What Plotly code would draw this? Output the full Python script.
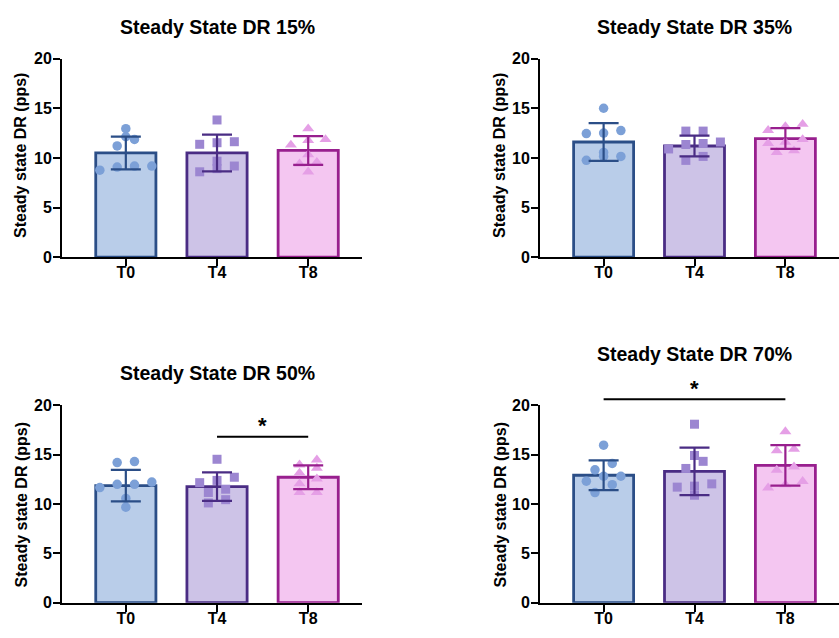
import numpy as np
import plotly.graph_objects as go

# ---------------- data ----------------
categories = ["T0", "T4", "T8"]
panel_titles = ["Steady State DR 15%", "Steady State DR 35%",
                "Steady State DR 50%", "Steady State DR 70%"]
y_title = "Steady state DR (pps)"
y_ticks = [0, 5, 10, 15, 20]

# bar means and SD (T0, T4, T8)
mean_15 = [10.5, 10.5, 10.75]
sd_15 = [1.65, 1.85, 1.45]
mean_35 = [11.6, 11.2, 11.95]
sd_35 = [1.9, 1.05, 1.05]
mean_50 = [11.85, 11.75, 12.7]
sd_50 = [1.6, 1.45, 1.2]
mean_70 = [12.9, 13.3, 13.9]
sd_70 = [1.5, 2.4, 2.05]

# individual participants
pts_15_T0 = [12.94, 12.13, 11.86, 11.21, 9.18, 9.08, 8.76, 9.18]
pts_15_T4 = [13.82, 11.53, 11.63, 11.37, 9.67, 9.18, 8.60, 8.92]
pts_15_T8 = [12.94, 11.86, 11.76, 11.30, 10.33, 9.57, 8.60, 9.41]

pts_35_T0 = [15.00, 12.50, 12.75, 12.45, 10.55, 9.75, 10.15, 10.15]
pts_35_T4 = [12.70, 12.70, 11.45, 10.90, 11.35, 11.60, 9.75, 10.15]
pts_35_T8 = [13.17, 13.40, 12.78, 11.86, 11.47, 11.60, 10.56, 10.72]

pts_50_T0 = [14.29, 14.19, 11.98, 12.21, 11.65, 11.98, 10.56, 9.67]
pts_50_T4 = [14.52, 12.70, 12.15, 12.38, 11.49, 11.16, 10.43, 10.10]
pts_50_T8 = [14.46, 13.96, 13.63, 13.14, 12.54, 12.05, 11.16, 11.16]

pts_70_T0 = [15.95, 14.10, 13.45, 12.80, 12.80, 12.30, 11.95, 11.15]
pts_70_T4 = [18.07, 14.90, 14.31, 13.59, 12.03, 11.80, 11.70, 10.88]
pts_70_T8 = [17.32, 15.56, 15.39, 13.76, 13.43, 12.29, 11.63, 11.96]

# significance brackets: (from, to, label, bracket height)
sig_50 = ("T4", "T8", "*", 16.8)
sig_70 = ("T0", "T8", "*", 20.6)

# ---------------- styling ----------------
FONT = "Arial, Liberation Sans, sans-serif"
fill_cols = ["#b9cde9", "#cdc3e7", "#f4c6f1"]
edge_cols = ["#2b4e87", "#4a2c84", "#981f8e"]
pt_cols = ["#7ca0d7", "#9c86d1", "#e59fe6"]
symbols = ["circle", "square", "triangle-up"]
sizes = [9.5, 9, 10.5]

W, H = 839, 638
XR = [-0.70, 2.59]
# pixel boxes: (left, right, top(y=20), bottom(y=0))
boxes = [(62, 362, 52, 256), (540, 839, 52, 256),
         (62, 362, 408, 611), (540, 839, 408, 611)]
title_pos = [(217, 20), (694, 20), (217, 375), (694, 355)]
ytitle_pos = [(21, 152), (500, 152), (21, 511), (500, 511)]

means = [mean_15, mean_35, mean_50, mean_70]
sds = [sd_15, sd_35, sd_50, sd_70]
points = [[pts_15_T0, pts_15_T4, pts_15_T8],
          [pts_35_T0, pts_35_T4, pts_35_T8],
          [pts_50_T0, pts_50_T4, pts_50_T8],
          [pts_70_T0, pts_70_T4, pts_70_T8]]
sigs = {2: sig_50, 3: sig_70}


def swarm_offsets(vals, row_tol=0.8, step=0.19):
    vals = np.asarray(vals, float)
    order = np.argsort(vals, kind="stable")
    rows, cur = [], [order[0]]
    for idx in order[1:]:
        if vals[idx] - vals[cur[0]] < row_tol:
            cur.append(idx)
        else:
            rows.append(cur)
            cur = [idx]
    rows.append(cur)
    off = np.zeros(len(vals))
    for row in rows:
        n = len(row)
        st = step if n <= 4 else 0.57 / (n - 1)
        for k, idx in enumerate(row):
            off[idx] = (k - (n - 1) / 2) * st
    return off


fig = go.Figure()
annotations = []
shapes = []

for p in range(4):
    sfx = "" if p == 0 else str(p + 1)
    xa, ya = "x" + sfx, "y" + sfx
    l, r, t, b = boxes[p]
    xdom = [l / W, min(r / W, 1.0)]
    ydom = [1 - b / H, 1 - t / H]
    xidx = list(range(len(categories)))

    fig.add_trace(go.Bar(
        x=xidx, y=means[p], width=0.66,
        marker=dict(color=fill_cols, line=dict(color=edge_cols, width=2.8)),
        xaxis=xa, yaxis=ya, showlegend=False, hoverinfo="skip"))

    for g in range(3):
        vals = points[p][g]
        off = swarm_offsets(vals)
        fig.add_trace(go.Scatter(
            x=[g + o for o in off], y=vals, mode="markers",
            marker=dict(symbol=symbols[g], size=sizes[g], color=pt_cols[g],
                        line=dict(width=0)),
            xaxis=xa, yaxis=ya, showlegend=False, hoverinfo="skip",
            cliponaxis=False))

    for g in range(3):
        fig.add_trace(go.Scatter(
            x=[g], y=[means[p][g]], mode="markers",
            marker=dict(size=1, color="rgba(0,0,0,0)"),
            error_y=dict(type="data", array=[sds[p][g]], symmetric=True,
                         color=edge_cols[g], thickness=2.2, width=15),
            xaxis=xa, yaxis=ya, showlegend=False, hoverinfo="skip"))

    axis_common = dict(showgrid=False, zeroline=False, showline=True,
                       linecolor="black", linewidth=2, ticks="outside",
                       ticklen=7, tickwidth=2, tickcolor="black",
                       tickfont=dict(family=FONT, size=16, color="black",
                                     weight="bold"))
    fig.update_layout(**{
        ("xaxis" + sfx): dict(domain=xdom, range=XR, anchor=ya,
                              tickvals=xidx, ticktext=categories,
                              ticklabelstandoff=-7, **axis_common),
        ("yaxis" + sfx): dict(domain=ydom, range=[0, 20], anchor=xa,
                              tickvals=y_ticks, ticklabelstandoff=-2,
                              **axis_common),
    })

    tx, ty = title_pos[p]
    annotations.append(dict(text=panel_titles[p], x=tx / W, y=1 - ty / H,
                            xref="paper", yref="paper", showarrow=False,
                            xanchor="center", yanchor="middle",
                            font=dict(family=FONT, size=19.5, color="black",
                                      weight="bold")))
    yx, yy = ytitle_pos[p]
    annotations.append(dict(text=y_title, x=yx / W, y=1 - yy / H,
                            xref="paper", yref="paper", showarrow=False,
                            textangle=-90, xanchor="center", yanchor="middle",
                            font=dict(family=FONT, size=16, color="black",
                                      weight="bold")))

    if p in sigs:
        c0, c1, lab, h = sigs[p]
        i0, i1 = categories.index(c0), categories.index(c1)

        def to_paper(v):
            return ydom[0] + v / 20 * (ydom[1] - ydom[0])
        shapes.append(dict(type="line", xref=xa, yref="paper",
                           x0=i0, x1=i1, y0=to_paper(h), y1=to_paper(h),
                           line=dict(color="black", width=2)))
        annotations.append(dict(text=lab, x=(i0 + i1) / 2, y=to_paper(h + 1.1),
                                xref=xa, yref="paper", showarrow=False,
                                xanchor="center", yanchor="middle",
                                font=dict(family=FONT, size=22, color="black",
                                          weight="bold")))

fig.update_layout(width=W, height=H, margin=dict(l=0, r=0, t=0, b=0),
                  paper_bgcolor="white", plot_bgcolor="white",
                  barmode="overlay", annotations=annotations, shapes=shapes,
                  showlegend=False)

fig.write_html("out.html")
